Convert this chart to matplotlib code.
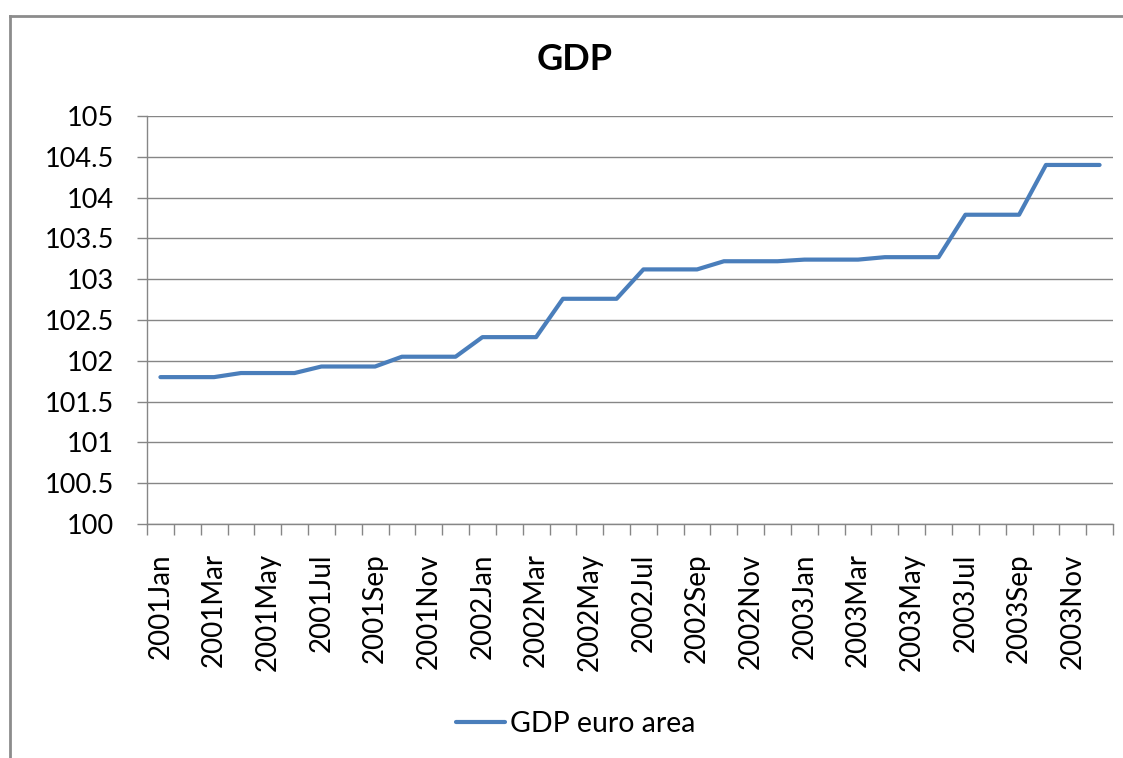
import matplotlib
matplotlib.use("Agg")
import matplotlib.pyplot as plt
from matplotlib.lines import Line2D
from matplotlib.ticker import FixedLocator, FixedFormatter

# ---- data ----
months = ["2001Jan", "2001Feb", "2001Mar", "2001Apr", "2001May", "2001Jun",
          "2001Jul", "2001Aug", "2001Sep", "2001Oct", "2001Nov", "2001Dec",
          "2002Jan", "2002Feb", "2002Mar", "2002Apr", "2002May", "2002Jun",
          "2002Jul", "2002Aug", "2002Sep", "2002Oct", "2002Nov", "2002Dec",
          "2003Jan", "2003Feb", "2003Mar", "2003Apr", "2003May", "2003Jun",
          "2003Jul", "2003Aug", "2003Sep", "2003Oct", "2003Nov", "2003Dec"]
gdp_euro_area = [101.80, 101.80, 101.80, 101.85, 101.85, 101.85,
                 101.93, 101.93, 101.93, 102.05, 102.05, 102.05,
                 102.29, 102.29, 102.29, 102.76, 102.76, 102.76,
                 103.12, 103.12, 103.12, 103.22, 103.22, 103.22,
                 103.24, 103.24, 103.24, 103.27, 103.27, 103.27,
                 103.79, 103.79, 103.79, 104.40, 104.40, 104.40]
y_ticks = [100, 100.5, 101, 101.5, 102, 102.5, 103, 103.5, 104, 104.5, 105]
y_tick_labels = ["100", "100.5", "101", "101.5", "102", "102.5",
                 "103", "103.5", "104", "104.5", "105"]
title = "GDP"
series_name = "GDP euro area"

plt.rcParams['font.family'] = ['Lato', 'DejaVu Sans']

W, H = 1123, 758
fig = plt.figure(figsize=(W / 100, H / 100), dpi=100)
fig.patch.set_facecolor("white")

# chart-area border (extends beyond the image on right/bottom)
border_col = "#8c8c8c"
fig.add_artist(Line2D([10 / W, 1.0], [1 - 16 / H, 1 - 16 / H], transform=fig.transFigure,
                      color=border_col, lw=2.0))
fig.add_artist(Line2D([10 / W, 10 / W], [1 - 16 / H, 0.0], transform=fig.transFigure,
                      color=border_col, lw=2.0))

left, right, top, bottom = 147, 1113, 116, 524
ax = fig.add_axes([left / W, 1 - bottom / H, (right - left) / W, (bottom - top) / H])

x = list(range(len(months)))
ax.plot(x, gdp_euro_area, color="#4a7ebb", lw=3.0, solid_capstyle="round",
        solid_joinstyle="round", label=series_name, zorder=3)

ax.set_xlim(-0.5, len(months) - 0.5)
ax.set_ylim(y_ticks[0], y_ticks[-1])

grid_col = "#868686"
ax.yaxis.set_major_locator(FixedLocator(y_ticks))
ax.yaxis.set_major_formatter(FixedFormatter(y_tick_labels))
ax.grid(axis="y", color=grid_col, lw=1.0, zorder=1)
ax.tick_params(axis="y", which="major", length=7.2, width=1.0, color=grid_col,
               direction="out", pad=16.5, labelsize=19.5, labelcolor="black")

# x: labels every second month at category centres, tick marks between categories
ax.xaxis.set_major_locator(FixedLocator(x[::2]))
ax.xaxis.set_major_formatter(FixedFormatter(months[::2]))
ax.xaxis.set_minor_locator(FixedLocator([i - 0.5 for i in range(len(months) + 1)]))
ax.tick_params(axis="x", which="major", length=0, pad=21, labelsize=20,
               labelrotation=90, labelcolor="black")
ax.tick_params(axis="x", which="minor", length=8, width=1.0, color=grid_col,
               direction="out")
for lab in ax.get_xticklabels():
    lab.set_verticalalignment("top")

for s in ["top", "right"]:
    ax.spines[s].set_visible(False)
ax.spines["left"].set_color(grid_col)
ax.spines["bottom"].set_color(grid_col)
ax.spines["left"].set_linewidth(1.0)
ax.spines["bottom"].set_linewidth(1.0)

fig.text(575 / W, 1 - 60 / H, title, ha="center", va="center",
         fontsize=26, fontweight="bold")

handles, labels = ax.get_legend_handles_labels()
fig.legend(handles, labels, loc="center", bbox_to_anchor=(576 / W, 1 - 724 / H),
           frameon=False, fontsize=20.5, handlelength=1.7, handletextpad=0.2,
           borderpad=0)

fig.savefig("out.png", dpi=100, facecolor="white")
